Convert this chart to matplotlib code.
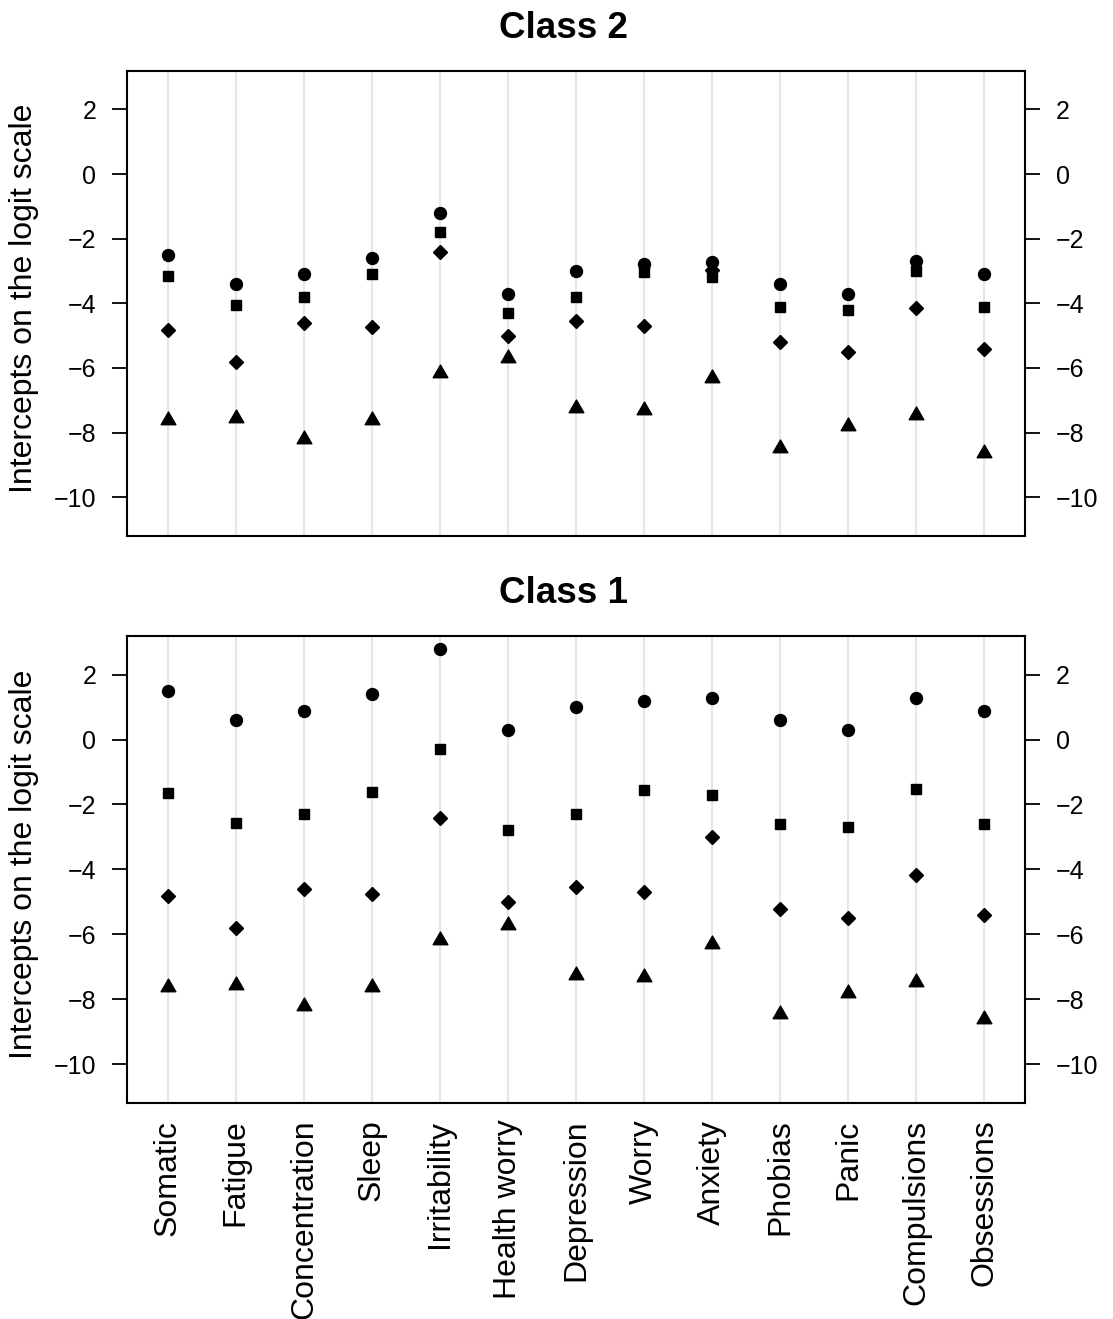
import matplotlib
matplotlib.use("Agg")
import matplotlib.pyplot as plt
from matplotlib.path import Path
import numpy as np

plt.rcParams['font.family'] = ['Liberation Sans', 'DejaVu Sans']

items = ["Somatic", "Fatigue", "Concentration", "Sleep", "Irritability",
         "Health worry", "Depression", "Worry", "Anxiety", "Phobias",
         "Panic", "Compulsions", "Obsessions"]

# Class 2 intercepts (logit scale)
c2_circle   = [-2.50, -3.40, -3.10, -2.61, -1.21, -3.70, -3.00, -2.78, -2.71, -3.40, -3.70, -2.69, -3.10]
c2_square   = [-3.15, -4.05, -3.79, -3.10, -1.80, -4.31, -3.80, -3.02, -3.18, -4.10, -4.21, -3.00, -4.10]
c2_diamond  = [-4.82, -5.80, -4.61, -4.74, -2.40, -5.00, -4.56, -4.70, -2.98, -5.21, -5.51, -4.15, -5.40]
c2_triangle = [-7.61, -7.56, -8.20, -7.61, -6.16, -5.70, -7.25, -7.30, -6.32, -8.48, -7.81, -7.47, -8.62]

# Class 1 intercepts (logit scale)
c1_circle   = [1.50, 0.60, 0.89, 1.41, 2.79, 0.30, 1.00, 1.20, 1.29, 0.60, 0.30, 1.29, 0.89]
c1_square   = [-1.65, -2.56, -2.31, -1.61, -0.30, -2.80, -2.30, -1.56, -1.70, -2.60, -2.70, -1.51, -2.60]
c1_diamond  = [-4.82, -5.80, -4.61, -4.75, -2.41, -5.01, -4.55, -4.71, -3.01, -5.21, -5.50, -4.16, -5.41]
c1_triangle = [-7.62, -7.57, -8.22, -7.62, -6.17, -5.72, -7.27, -7.32, -6.31, -8.47, -7.81, -7.46, -8.62]

yticks = [-10, -8, -6, -4, -2, 0, 2]

# triangle marker centred on its centroid (like R pch 17)
tri = Path([(0, 1), (-0.8660254, -0.5), (0.8660254, -0.5), (0, 1)],
           [Path.MOVETO, Path.LINETO, Path.LINETO, Path.CLOSEPOLY])

W, H = 1113, 1319
fig = plt.figure(figsize=(W / 100, H / 100), dpi=100)

def px_axes(left, top, right, bottom):
    return fig.add_axes([left / W, 1 - bottom / H, (right - left) / W, (bottom - top) / H])

ax2 = px_axes(127, 71, 1025, 536)
ax1 = px_axes(127, 636, 1025, 1103)

x = np.arange(1, len(items) + 1)

def draw(ax, circ, sq, dia, trian, title, show_x):
    for xi in x:
        ax.axvline(xi, color='#e6e6e6', lw=1.6, zorder=0)
    ax.plot(x, circ, linestyle='none', marker='o', ms=8.6, color='black', zorder=3)
    ax.plot(x, sq, linestyle='none', marker='s', ms=7.2, color='black', zorder=3)
    ax.plot(x, dia, linestyle='none', marker='D', ms=6.8, color='black', zorder=3)
    ax.plot(x, trian, linestyle='none', marker=tri, ms=12.2, color='black', zorder=3)
    ax.set_xlim(0.4, 13.6)
    ax.set_ylim(-11.2, 3.19)
    ax.set_yticks(yticks)
    ax.set_yticklabels([str(v).replace('-', '\u2212') for v in yticks])
    ax.tick_params(axis='y', left=True, right=True, labelleft=True, labelright=True,
                   direction='out', length=11, width=1.3, pad=11, labelsize=18)
    ax.set_xticks(x)
    if show_x:
        ax.set_xticklabels(items, rotation=90, va='top', ha='center')
        ax.tick_params(axis='x', length=0, pad=12, labelsize=23)
    else:
        ax.set_xticklabels([])
        ax.tick_params(axis='x', length=0)
    for s in ax.spines.values():
        s.set_linewidth(1.5)
        s.set_color('black')
    ax.set_ylabel("Intercepts on the logit scale", fontsize=23)
    ax.yaxis.set_label_coords(-0.098, 0.512)
    ax.set_title(title, fontsize=26.5, fontweight='bold', pad=24, x=0.486)

draw(ax2, c2_circle, c2_square, c2_diamond, c2_triangle, "Class 2", False)
draw(ax1, c1_circle, c1_square, c1_diamond, c1_triangle, "Class 1", True)

fig.savefig("out.png", dpi=100)
